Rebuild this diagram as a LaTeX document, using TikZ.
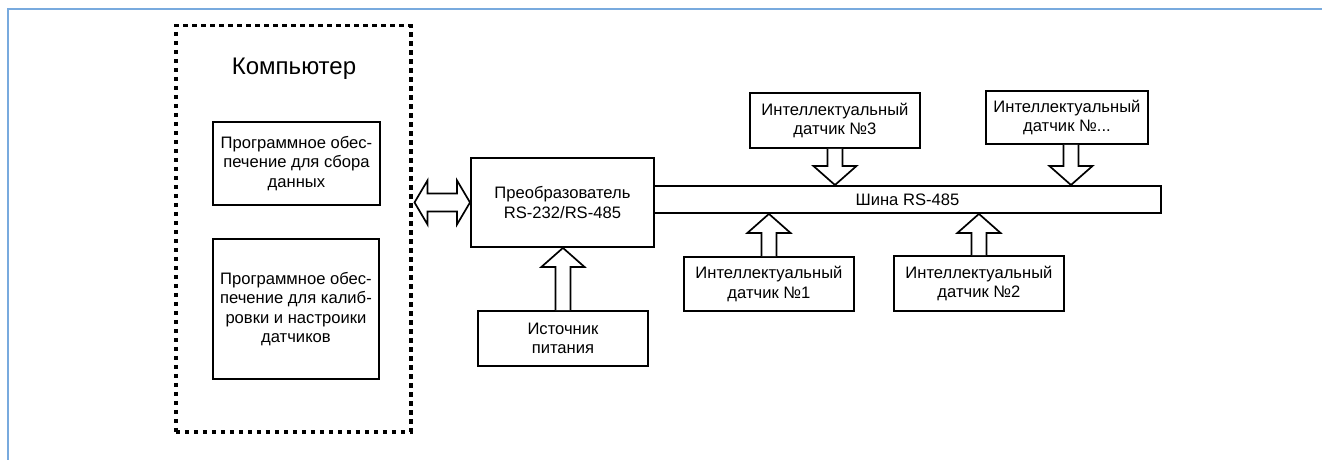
\documentclass[tikz,border=0pt]{standalone}
\usepackage{fontspec}
\setmainfont{Liberation Sans}
\usetikzlibrary{calc}
\definecolor{framecol}{RGB}{120,170,222}
\newcommand\uparr[2]{\draw[blk] let \p1=(#1), \p2=(#2) in
  (\x1-7.5pt,\y1) -- (\x1-7.5pt,\y2-19pt) -- (\x1-21.5pt,\y2-19pt) -- (\x1,\y2)
  -- (\x1+21.5pt,\y2-19pt) -- (\x1+7.5pt,\y2-19pt) -- (\x1+7.5pt,\y1);}
\newcommand\downarr[2]{\draw[blk] let \p1=(#1), \p2=(#2) in
  (\x1-7.5pt,\y1) -- (\x1-7.5pt,\y2+19pt) -- (\x1-21.5pt,\y2+19pt) -- (\x1,\y2)
  -- (\x1+21.5pt,\y2+19pt) -- (\x1+7.5pt,\y2+19pt) -- (\x1+7.5pt,\y1);}
\newcommand\harr[2]{\draw[blk] let \p1=(#1), \p2=(#2) in
  (\x1+2pt,\y2) -- (\x1+15pt,\y2+22pt) -- (\x1+15pt,\y2+9pt) -- (\x2-13pt,\y2+9pt)
  -- (\x2-13pt,\y2+22pt) -- (\x2,\y2) -- (\x2-13pt,\y2-22pt) -- (\x2-13pt,\y2-9pt)
  -- (\x1+15pt,\y2-9pt) -- (\x1+15pt,\y2-22pt) -- cycle;}
\begin{document}
\begin{tikzpicture}[x=1pt,y=-1pt,
  box/.style={draw,line width=1.9pt,inner sep=0pt,align=center,fill=white,
    font=\fontsize{16.6}{19.5}\selectfont},
  dashbox/.style={draw,line width=3.5pt,dash pattern=on 4.5pt off 4.5pt,inner sep=0pt},
  blk/.style={draw,line width=1.7pt,fill=white,line join=miter},
]
\useasboundingbox (0,0) rectangle (1322,460);
\draw[framecol, line width=1.4pt] (8,460) -- (8,9) -- (1322,9);

\node[dashbox, minimum width=235pt, minimum height=406pt, anchor=north west] (comp) at (174,24) {};
\node[font=\fontsize{24}{28}\selectfont] (comptitle) at (294,69) {Компьютер};
\node[box, minimum width=167pt, minimum height=83pt, anchor=north west] (sw1) at (212,121)
  {Программное обес-\\печение для сбора\\данных};
\node[box, minimum width=166pt, minimum height=140pt, anchor=north west] (sw2) at (212,238)
  {Программное обес-\\печение для калиб-\\ровки и настроики\\датчиков};
\node[box, minimum width=507pt, minimum height=27pt, anchor=north west] (bus) at (653,185)
  {Шина RS-485};
\node[box, minimum width=183pt, minimum height=89pt, anchor=north west] (conv) at (470,157)
  {Преобразователь\\RS-232/RS-485};
\node[box, minimum width=170pt, minimum height=55pt, anchor=north west] (pw) at (477,310)
  {Источник\\питания};
\node[box, minimum width=170pt, minimum height=55pt, anchor=north west] (s3) at (749,92)
  {Интеллектуальный\\датчик №3};
\node[box, minimum width=162pt, minimum height=53pt, anchor=north west] (sN) at (985,90)
  {Интеллектуальный\\датчик №...};
\node[box, minimum width=170pt, minimum height=54pt, anchor=north west] (s1) at (683,256)
  {Интеллектуальный\\датчик №1};
\node[box, minimum width=170pt, minimum height=55pt, anchor=north west] (s2) at (893,255)
  {Интеллектуальный\\датчик №2};

\harr{comp.east}{conv.west}
\uparr{pw.north}{conv.south}
\uparr{s1.north}{bus.south}
\uparr{s2.north}{bus.south}
\downarr{s3.south}{bus.north}
\downarr{$(sN.south)+(4,0)$}{bus.north}
\end{tikzpicture}
\end{document}
